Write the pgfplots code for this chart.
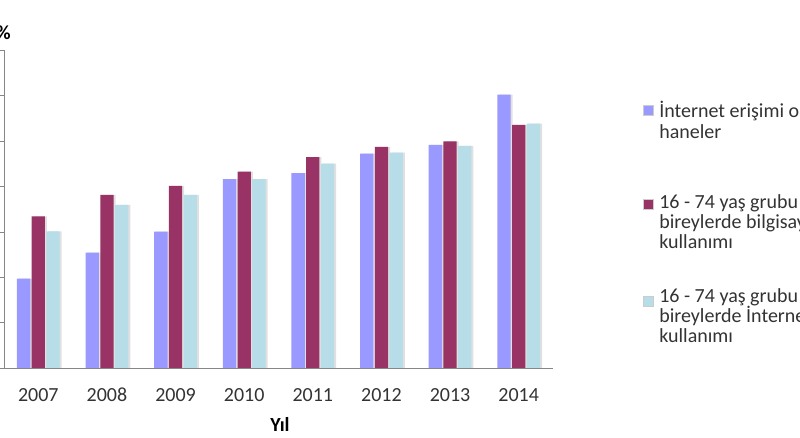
\documentclass[border=0pt]{standalone}
\usepackage{pgfplots}
\usepackage{pgfplotstable}
\pgfplotsset{compat=1.18}
\usepackage{fontspec}
\setmainfont{Carlito}
\definecolor{serA}{HTML}{9999FF}
\definecolor{serB}{HTML}{993366}
\definecolor{serC}{HTML}{B7DEE8}
\definecolor{axgray}{HTML}{868686}
\definecolor{txt}{HTML}{333333}

\pgfplotstableread{
x hane bilg int
0 19.7 33.4 30.1
1 25.4 38.1 35.9
2 30.0 40.1 38.1
3 41.6 43.2 41.6
4 42.9 46.4 45.0
5 47.2 48.7 47.4
6 49.1 49.9 48.9
7 60.2 53.5 53.8
}\data

\begin{document}
\begin{tikzpicture}[x=0.75pt,y=0.75pt]
% 1 unit = 1 px of the 800x438 reference
\useasboundingbox (0,0) rectangle (800,438);
\begin{axis}[
    at={(3pt,52.5pt)}, anchor=south west,
    scale only axis, width=411.75pt, height=238.5pt,
    xmin=-0.5, xmax=7.5, ymin=0, ymax=70,
    axis lines*=left,
    axis line style={draw=axgray},
    xtick={0,...,7},
    xticklabels={2007,2008,2009,2010,2011,2012,2013,2014},
    x tick style={draw=none},
    ytick={0,10,...,70},
    yticklabels={},
    y tick style={draw=axgray},
    tick align=outside,
    major tick length=3pt,
    xticklabel style={font=\fontsize{15}{17}\selectfont, text=txt,
        anchor=base, yshift=-22.5pt},
    clip=false,
]
% shadows
\addplot[ybar, bar width=10pt, bar shift=-9.5pt, fill=black!12, draw=none] table[x=x,y=hane] {\data};
\addplot[ybar, bar width=10pt, bar shift=1.5pt, fill=black!12, draw=none] table[x=x,y=bilg] {\data};
\addplot[ybar, bar width=10pt, bar shift=12.5pt, fill=black!12, draw=none] table[x=x,y=int] {\data};
% bars
\addplot[ybar, bar width=10pt, bar shift=-11pt, fill=serA, draw=none] table[x=x,y=hane] {\data};
\addplot[ybar, bar width=10pt, bar shift=0pt, fill=serB, draw=none] table[x=x,y=bilg] {\data};
\addplot[ybar, bar width=10pt, bar shift=11pt, fill=serC, draw=none] table[x=x,y=int] {\data};
\end{axis}

\node[anchor=east, font=\bfseries\fontsize{15}{17}\selectfont, text=black, inner sep=0] at (11,405) {\%};
\node[font=\bfseries\fontsize{15}{17}\selectfont, text=black, inner sep=0] at (280,14) {Yıl};

% legend
\begin{scope}[every node/.style={anchor=base west, inner sep=0, font=\fontsize{15}{17}\selectfont, text=txt}]
\filldraw[fill=serA, draw=black!20] (643,322.5) rectangle (653,332.5);
\node at (659,320) {İnternet erişimi olan};
\node at (659,299) {haneler};
\filldraw[fill=serB, draw=black!20] (643,228.5) rectangle (653,238.5);
\node at (659,229) {16 - 74 yaş grubu};
\node at (659,209) {bireylerde bilgisayar};
\node at (659,189) {kullanımı};
\filldraw[fill=serC, draw=black!20] (643,132) rectangle (653,142);
\node at (659,135) {16 - 74 yaş grubu};
\node at (659,115) {bireylerde İnternet};
\node at (659,95) {kullanımı};
\end{scope}
\end{tikzpicture}
\end{document}
